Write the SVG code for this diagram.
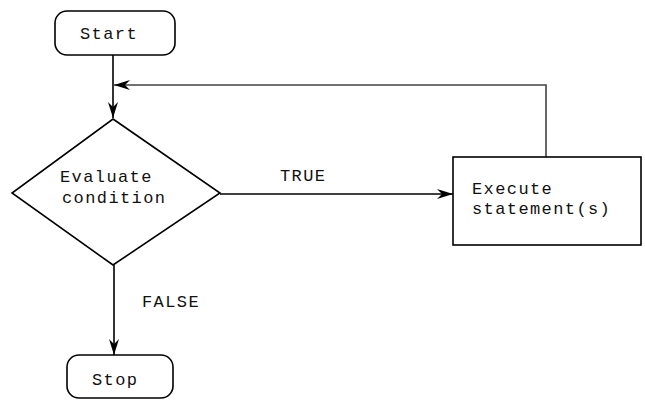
<svg xmlns="http://www.w3.org/2000/svg" width="645" height="401" viewBox="0 0 645 401">
  <defs>
    <marker id="arrow" viewBox="0 0 16 10" refX="16" refY="5" markerWidth="16" markerHeight="10" markerUnits="userSpaceOnUse" orient="auto">
      <path d="M0,0 L16,5 L0,10 L5,5 Z" fill="#000"/>
    </marker>
    <style>
      .shape { fill: #fff; stroke: #000; stroke-width: 1.6; }
      .edge { fill: none; stroke: #000; stroke-width: 1.6; }
      .loop { fill: none; stroke: #444; stroke-width: 1.6; }
      .label { font-family: "Liberation Mono", "Courier New", monospace; font-size: 17px; letter-spacing: 1.4px; fill: #111; }
    </style>
  </defs>
  <rect width="645" height="401" fill="#fff"/>

  <g id="connectors">
    <line class="edge" x1="113" y1="55" x2="113" y2="118" marker-end="url(#arrow)"/>
    <polyline class="loop" points="546,157 546,85 114,85" marker-end="url(#arrow)"/>
    <line class="edge" x1="220" y1="194" x2="453" y2="194" marker-end="url(#arrow)"/>
    <line class="edge" x1="114" y1="265" x2="114" y2="355" marker-end="url(#arrow)"/>
    <text class="label" x="280" y="181">TRUE</text>
    <text class="label" x="142" y="307">FALSE</text>
  </g>

  <g id="start">
    <rect class="shape" x="55" y="11" width="120" height="44" rx="12" ry="12"/>
    <text class="label" x="80" y="39">Start</text>
  </g>

  <g id="condition">
    <polygon class="shape" points="113,119 220,193 113,265 12,193"/>
    <text class="label" x="60" y="182">Evaluate</text>
    <text class="label" x="62" y="203">condition</text>
  </g>

  <g id="execute">
    <rect class="shape" x="453" y="157" width="188" height="88"/>
    <text class="label" x="472" y="194">Execute</text>
    <text class="label" x="472" y="214">statement(s)</text>
  </g>

  <g id="stop">
    <rect class="shape" x="67" y="355" width="106" height="43" rx="12" ry="12"/>
    <text class="label" x="92" y="385">Stop</text>
  </g>
</svg>
